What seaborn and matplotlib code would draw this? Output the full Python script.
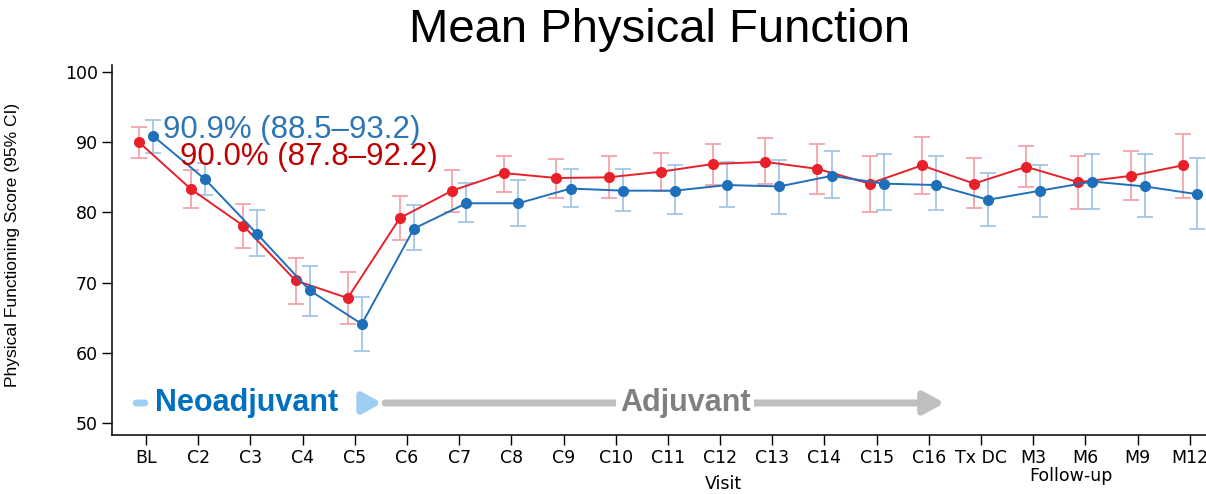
import numpy as np
import pandas as pd
import seaborn as sns
import matplotlib
matplotlib.use("Agg")
import matplotlib.pyplot as plt

sns.set_theme(style="ticks")
plt.rcParams['font.family'] = ['Liberation Sans', 'DejaVu Sans']
plt.rcParams.update({"text.color": "black", "axes.labelcolor": "black",
                     "xtick.color": "black", "ytick.color": "black"})

# ---- data ----
visits = ["BL", "C2", "C3", "C4", "C5", "C6", "C7", "C8", "C9", "C10", "C11",
          "C12", "C13", "C14", "C15", "C16", "Tx DC", "M3", "M6", "M9", "M12"]
red_mean = [90.0, 83.3, 78.1, 70.3, 67.8, 79.2, 83.1, 85.6, 84.9, 85.0, 85.8,
            86.9, 87.2, 86.2, 84.1, 86.7, 84.1, 86.5, 84.3, 85.2, 86.7]
red_lo = [87.8, 80.6, 74.9, 66.9, 64.1, 76.1, 80.0, 82.9, 82.0, 82.0, 83.1,
          83.9, 84.0, 82.6, 80.0, 82.6, 80.6, 83.6, 80.5, 81.7, 82.1]
red_hi = [92.2, 86.0, 81.2, 73.5, 71.5, 82.4, 86.0, 88.1, 87.6, 88.1, 88.5,
          89.7, 90.6, 89.7, 88.0, 90.7, 87.8, 89.5, 88.1, 88.8, 91.2]
blue_mean = [90.9, 84.7, 76.9, 68.9, 64.1, 77.7, 81.3, 81.3, 83.4, 83.1, 83.1,
             83.9, 83.7, 85.2, 84.1, 83.9, 81.8, 83.1, 84.4, 83.7, 82.6]
blue_lo = [88.5, 82.5, 73.8, 65.3, 60.3, 74.6, 78.6, 78.0, 80.7, 80.2, 79.8,
           80.8, 79.8, 82.0, 80.3, 80.3, 78.1, 79.4, 80.5, 79.3, 77.6]
blue_hi = [93.2, 87.0, 80.3, 72.3, 68.0, 81.1, 84.2, 84.6, 86.2, 86.2, 86.7,
           87.2, 87.5, 88.7, 88.3, 88.0, 85.6, 86.7, 88.3, 88.3, 87.8]
groups = ["Red arm", "Blue arm"]
ytick_vals = [50, 60, 70, 80, 90, 100]

red_line, red_err = "#E8202A", "#F4A3A9"
blue_line, blue_err = "#1F6FBA", "#A3C6E6"
wide_font = ['DejaVu Sans']

dodge = 0.135
idx = np.arange(len(visits))
df = pd.concat([
    pd.DataFrame({"pos": idx - dodge, "mean": red_mean, "lo": red_lo, "hi": red_hi, "group": groups[0]}),
    pd.DataFrame({"pos": idx + dodge, "mean": blue_mean, "lo": blue_lo, "hi": blue_hi, "group": groups[1]}),
], ignore_index=True)

fig = plt.figure(figsize=(12.06, 4.94), dpi=100)
ax = fig.add_axes([112/1206, (494-435)/494, (1206-112)/1206, (435-65)/494])

for g, ec in zip(groups, [red_err, blue_err]):
    d = df[df.group == g]
    ax.errorbar(d["pos"], d["mean"], yerr=[d["mean"] - d["lo"], d["hi"] - d["mean"]],
                fmt="none", ecolor=ec, elinewidth=1.3, capsize=6, capthick=1.3, zorder=2)

sns.lineplot(data=df, x="pos", y="mean", hue="group", palette=[red_line, blue_line],
             hue_order=groups, marker="o", markersize=8, markeredgewidth=0,
             linewidth=1.4, legend=False, ax=ax, zorder=3, sort=False)

ax.set_xlim(-0.651, 20.31)
ax.set_ylim(48.29, 101.0)
ax.set_xticks(idx)
ax.set_xticklabels(visits, fontsize=12.5, family=wide_font)
ax.set_yticks(ytick_vals)
ax.set_yticklabels([str(v) for v in ytick_vals], fontsize=12.5, family=wide_font)
ax.tick_params(axis="both", direction="out", length=7, width=1, color="black", pad=3)
for s in ["top", "right"]:
    ax.spines[s].set_visible(False)
for s in ["left", "bottom"]:
    ax.spines[s].set_color("black")
    ax.spines[s].set_linewidth(1.1)

ax.set_ylabel("Physical Functioning Score (95% CI)", fontsize=12.5)
ax.yaxis.set_label_coords(-0.084, 0.513)
ax.set_xlabel("")
ax.text(0.5585, (435 - 484) / 370, "Visit", transform=ax.transAxes, fontsize=12.5,
        family=wide_font, ha="center", va="center")
ax.text(0.8766, (435 - 476) / 370, "Follow-up", transform=ax.transAxes, fontsize=12.5,
        family=wide_font, ha="center", va="center")

# annotations of baseline values
ax.text(0.33, 91.75, "90.9% (88.5–93.2)", color="#2E75B6", fontsize=22.5,
        ha="left", va="center", zorder=5)
ax.text(0.65, 87.85, "90.0% (87.8–92.2)", color="#C00000", fontsize=22.5,
        ha="left", va="center", zorder=5)

# phase arrows
yarr = 52.85
ax.annotate("", xy=(-0.02, yarr), xytext=(-0.19, yarr),
            arrowprops=dict(arrowstyle="-", color="#9DCFF5", lw=5, shrinkA=0, shrinkB=0))
ax.annotate("", xy=(4.52, yarr), xytext=(4.15, yarr),
            arrowprops=dict(arrowstyle="-|>,head_length=0.9,head_width=0.5", color="#9DCFF5",
                            lw=5, shrinkA=0, shrinkB=0))
ax.text(1.93, yarr, "Neoadjuvant", color="#0070C0", fontsize=22, fontweight="bold",
        ha="center", va="center", zorder=5)
ax.annotate("", xy=(15.3, yarr), xytext=(4.58, yarr),
            arrowprops=dict(arrowstyle="-|>,head_length=1.0,head_width=0.55", color="#BFBFBF",
                            lw=5, shrinkA=0, shrinkB=0), zorder=4)
ax.text(10.33, yarr, "Adjuvant", color="#808080", fontsize=22, fontweight="bold",
        ha="center", va="center", zorder=6,
        bbox=dict(boxstyle="square,pad=0.12", fc="white", ec="none"))

fig.text(0.547, 0.939, "Mean Physical Function", fontsize=34, ha="center", va="center")

fig.savefig("out.png", dpi=100)
